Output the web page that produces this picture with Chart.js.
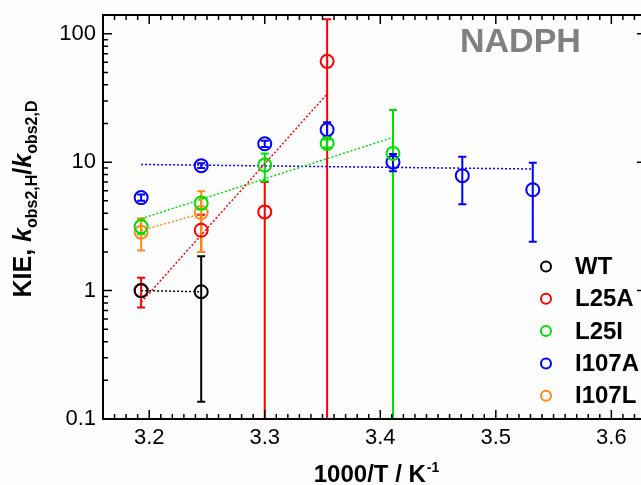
<!DOCTYPE html>
<html>
<head>
<meta charset="utf-8">
<script src="https://cdn.jsdelivr.net/npm/chart.js@4.4.1/dist/chart.umd.min.js"></script>
<style>
  html, body { margin: 0; padding: 0; background: #fdfdfd; overflow: hidden; }
  #wrap { width: 690px; height: 485px; }
</style>
</head>
<body>
<div id="wrap"><canvas id="kie-chart" width="690" height="485"></canvas></div>
<script>
// 1000/T values (K^-1) for 40, 35, 30, 25, 20, 15, 10 degC
const invT = [3.193, 3.245, 3.300, 3.354, 3.411, 3.471, 3.532];

const variants = ['WT', 'L25A', 'L25I', 'I107A', 'I107L'];
const colors = ['#000000', '#ff0000', '#00e000', '#0000ff', '#ff8a1a'];

// KIE values, upper and lower error limits (null = no point)
const wtKie = [1.0, 0.98];
const wtHi = [null, 1.85];
const wtLo = [null, 0.136];

const l25aKie = [1.0, 2.95, 4.1, 61];
const l25aHi = [1.26, 3.9, 7.0, 130];
const l25aLo = [0.74, 2.0, 0.01, 0.01];

const l25iKie = [3.15, 4.8, 9.5, 14.0, 11.7];
const l25iHi = [3.62, 5.3, 11.7, 15.0, 25.5];
const l25iLo = [2.75, 4.3, 7.1, 13.0, 0.01];

const i107aKie = [5.3, 9.4, 13.9, 17.9, 10.0, 7.85, 6.1];
const i107aHi = [5.6, 9.8, 14.7, 20.5, 11.6, 11.0, 9.9];
const i107aLo = [5.0, 9.0, 13.1, 15.7, 8.5, 4.7, 2.4];

const i107lKie = [2.85, 4.05];
const i107lHi = [3.65, 5.95];
const i107lLo = [2.05, 2.0];

// linear fits (end points)
const wtFit = [[3.193, 1.0], [3.245, 0.98]];
const l25aFit = [[3.193, 0.81], [3.354, 34]];
const l25iFit = [[3.193, 3.63], [3.411, 15.6]];
const i107aFit = [[3.193, 9.6], [3.532, 8.85]];
const i107lFit = [[3.193, 2.94], [3.245, 3.97]];

const xTicks = [3.2, 3.3, 3.4, 3.5, 3.6];
const yTicks = [0.1, 1, 10, 100];

const kieSets = [wtKie, l25aKie, l25iKie, i107aKie, i107lKie];
const hiSets = [wtHi, l25aHi, l25iHi, i107aHi, i107lHi];
const loSets = [wtLo, l25aLo, l25iLo, i107aLo, i107lLo];
const fitSets = [wtFit, l25aFit, l25iFit, i107aFit, i107lFit];

const FONT = "'Liberation Sans', Arial, sans-serif";
Chart.defaults.font.family = FONT;
Chart.defaults.color = '#000';

const datasets = [];
variants.forEach((name, i) => {
    datasets.push({
        label: name,
        data: kieSets[i].map((v, j) => ({ x: invT[j], y: v })),
        showLine: false,
        pointStyle: 'circle',
        pointRadius: 6.5,
        pointHoverRadius: 6.5,
        pointBorderWidth: 2,
        pointBorderColor: colors[i],
        pointBackgroundColor: 'rgba(0,0,0,0)',
        borderColor: colors[i],
        order: 1,
        isPoints: true,
        hi: hiSets[i],
        lo: loSets[i]
    });
});
variants.forEach((name, i) => {
    datasets.push({
        label: name + ' fit',
        data: fitSets[i].map(p => ({ x: p[0], y: p[1] })),
        showLine: true,
        borderColor: colors[i],
        borderWidth: 1.5,
        borderDash: [2, 2],
        pointRadius: 0,
        order: 2
    });
});

const decorPlugin = {
    id: 'decor',
    beforeDatasetsDraw(chart) {
        const { ctx, chartArea: a, scales: { x, y } } = chart;
        // error bars
        ctx.save();
        ctx.beginPath();
        ctx.rect(a.left, a.top, a.right - a.left, a.bottom - a.top);
        ctx.clip();
        chart.data.datasets.forEach(ds => {
            if (!ds.isPoints) return;
            ctx.strokeStyle = ds.borderColor;
            ctx.lineWidth = 2;
            ds.data.forEach((p, j) => {
                if (ds.hi[j] == null) return;
                const px = x.getPixelForValue(p.x);
                const ph = y.getPixelForValue(ds.hi[j]);
                const pl = y.getPixelForValue(ds.lo[j]);
                ctx.beginPath();
                ctx.moveTo(px, ph); ctx.lineTo(px, pl);
                ctx.moveTo(px - 4, ph); ctx.lineTo(px + 4, ph);
                ctx.moveTo(px - 4, pl); ctx.lineTo(px + 4, pl);
                ctx.stroke();
            });
        });
        ctx.restore();
    },
    afterDraw(chart) {
        const { ctx, chartArea: a, scales: { x, y } } = chart;
        ctx.save();
        ctx.strokeStyle = '#000';
        ctx.lineWidth = 2;
        ctx.strokeRect(a.left, a.top, a.right - a.left, a.bottom - a.top);
        ctx.lineWidth = 1.5;
        ctx.beginPath();
        // x minor/major ticks, pointing inside
        for (let k = 317; k <= 364; k++) {
            const v = k / 100;
            const px = x.getPixelForValue(v);
            if (px <= a.left || px >= a.right) continue;
            const len = (k % 10 === 0) ? 9 : 5;
            ctx.moveTo(px, a.bottom); ctx.lineTo(px, a.bottom - len);
            ctx.moveTo(px, a.top); ctx.lineTo(px, a.top + len);
        }
        // y log ticks
        [0.1, 1, 10, 100].forEach(dec => {
            for (let m = 1; m <= 9; m++) {
                const v = dec * m;
                const py = y.getPixelForValue(v);
                if (py < a.top || py > a.bottom) continue;
                const len = m === 1 ? 9 : 5;
                ctx.moveTo(a.left, py); ctx.lineTo(a.left + len, py);
                ctx.moveTo(a.right, py); ctx.lineTo(a.right - len, py);
            }
        });
        ctx.stroke();

        // NADPH label
        ctx.fillStyle = '#808080';
        ctx.font = 'bold 34px ' + FONT;
        ctx.textBaseline = 'alphabetic';
        ctx.textAlign = 'left';
        ctx.fillText('NADPH', 460, 52);

        // legend
        chart.data.datasets.filter(d => d.isPoints).forEach((d, i) => {
            const cy = 266.5 + i * 32.3;
            ctx.strokeStyle = d.borderColor;
            ctx.lineWidth = 2;
            ctx.beginPath();
            ctx.arc(546, cy, 5, 0, Math.PI * 2);
            ctx.stroke();
            ctx.fillStyle = '#000';
            ctx.font = 'bold 24px ' + FONT;
            ctx.textBaseline = 'middle';
            ctx.fillText(d.label, 575, cy + 1);
        });

        // x title
        ctx.fillStyle = '#000';
        ctx.textBaseline = 'alphabetic';
        ctx.font = 'bold 24px ' + FONT;
        const main = '1000/T / K';
        const wMain = ctx.measureText(main).width;
        ctx.font = 'bold 14px ' + FONT;
        const wSup = ctx.measureText('-1').width;
        let sx = 376 - (wMain + wSup) / 2;
        ctx.font = 'bold 24px ' + FONT;
        ctx.fillText(main, sx, 482);
        ctx.font = 'bold 14px ' + FONT;
        ctx.fillText('-1', sx + wMain + 1, 472);

        // y title, rotated
        ctx.translate(31, 199);
        ctx.rotate(-Math.PI / 2);
        const parts = [
            { t: 'KIE, ', f: 'bold 25px', dy: 0 },
            { t: 'k', f: 'italic bold 25px', dy: 0 },
            { t: 'obs2,H', f: 'bold 16px', dy: 6 },
            { t: '/', f: 'bold 25px', dy: 0 },
            { t: 'k', f: 'italic bold 25px', dy: 0 },
            { t: 'obs2,D', f: 'bold 16px', dy: 6 }
        ];
        let total = 0;
        parts.forEach(p => { ctx.font = p.f + ' ' + FONT; p.w = ctx.measureText(p.t).width; total += p.w; });
        let cx = -total / 2;
        parts.forEach(p => {
            ctx.font = p.f + ' ' + FONT;
            ctx.fillText(p.t, cx, p.dy);
            cx += p.w;
        });
        ctx.restore();
    }
};

new Chart(document.getElementById('kie-chart'), {
    type: 'scatter',
    data: { datasets: datasets },
    options: {
        responsive: false,
        animation: false,
        layout: { padding: { top: 15, right: 44, left: 0, bottom: 0 } },
        plugins: { legend: { display: false }, tooltip: { enabled: false } },
        scales: {
            x: {
                type: 'linear',
                min: 3.16,
                max: 3.63,
                afterBuildTicks: s => { s.ticks = xTicks.map(v => ({ value: v })); },
                afterFit: s => { s.height = 66; s.paddingLeft = 0; s.paddingRight = 0; },
                grid: { display: false, drawTicks: false },
                border: { display: false },
                ticks: { font: { size: 22 }, color: '#000', padding: 6, callback: v => v.toFixed(1) }
            },
            y: {
                type: 'logarithmic',
                min: 0.1,
                max: 140,
                afterBuildTicks: s => { s.ticks = yTicks.map(v => ({ value: v })); },
                afterFit: s => { s.width = 103; s.paddingTop = 0; s.paddingBottom = 0; },
                grid: { display: false, drawTicks: false },
                border: { display: false },
                ticks: { font: { size: 22 }, color: '#000', padding: 7, callback: v => String(v) }
            }
        }
    },
    plugins: [decorPlugin]
});
</script>
</body>
</html>
